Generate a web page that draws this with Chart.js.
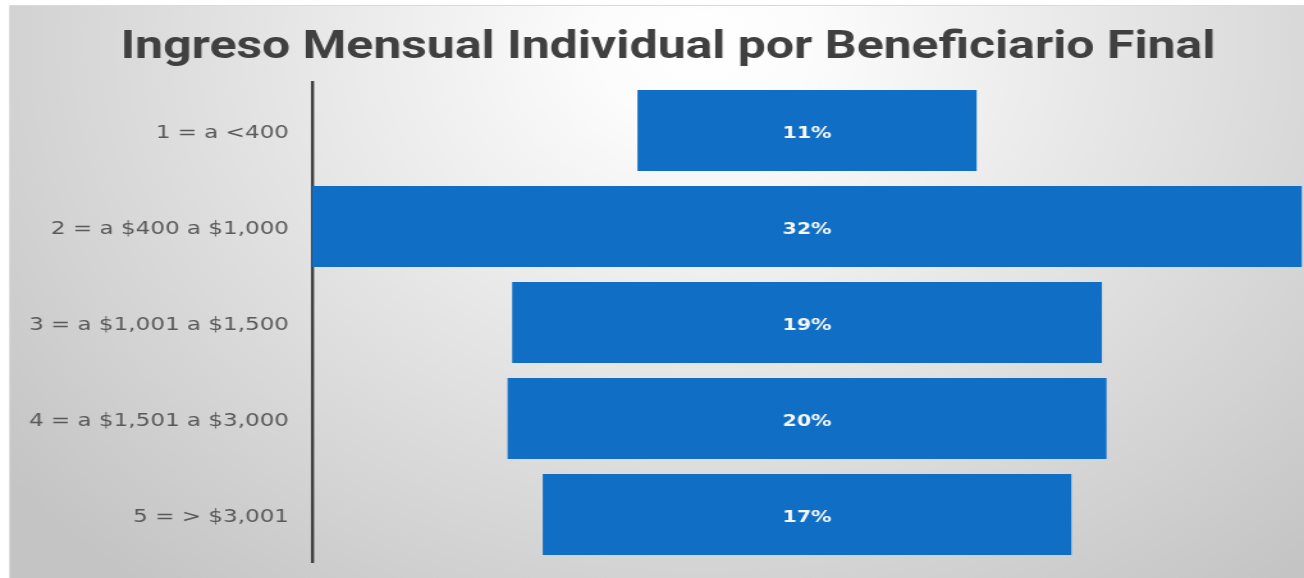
<!DOCTYPE html>
<html>
<head>
<meta charset="utf-8">
<script src="https://cdn.jsdelivr.net/npm/chart.js@4/dist/chart.umd.min.js"></script>
<style>
  html, body { margin: 0; padding: 0; background: #ffffff; overflow: hidden; }
  #wrap { position: relative; width: 1304px; height: 578px; }
  canvas { display: block; }
</style>
</head>
<body>
<div id="wrap"><canvas id="c" width="1019" height="578" style="width:1304px;height:578px"></canvas></div>
<script>
const chartTitle = 'Ingreso Mensual Individual por Beneficiario Final';
const categories = ['1 = a <400', '2 = a $400 a $1,000', '3 = a $1,001 a $1,500', '4 = a $1,501 a $3,000', '5 = > $3,001'];
const shares = [11.1, 32.4, 19.3, 19.6, 17.3];

const maxShare = Math.max(...shares);
const centre = maxShare / 2;
const funnelRanges = shares.map(v => [centre - v / 2, centre + v / 2]);

const bgPlugin = {
  id: 'bg',
  beforeDraw(chart) {
    const ctx = chart.ctx;
    const x0 = 8, y0 = 6, w = chart.width - x0, h = chart.height - y0;
    ctx.save();
    ctx.fillStyle = '#ffffff';
    ctx.fillRect(0, 0, chart.width, chart.height);
    const g = ctx.createRadialGradient(550, 45, 0, 550, 45, 700);
    g.addColorStop(0, '#ffffff');
    g.addColorStop(0.12, '#fcfcfc');
    g.addColorStop(1, '#c4c4c4');
    ctx.fillStyle = g;
    ctx.fillRect(x0, y0, w, h);
    ctx.strokeStyle = '#d9d9d9';
    ctx.lineWidth = 1;
    ctx.beginPath();
    ctx.moveTo(x0 - 0.5, chart.height);
    ctx.lineTo(x0 - 0.5, y0 - 0.5);
    ctx.lineTo(chart.width, y0 - 0.5);
    ctx.stroke();
    // title
    ctx.fillStyle = '#404040';
    ctx.font = 'bold 39px Roboto, "Liberation Sans", sans-serif';
    ctx.textAlign = 'center';
    ctx.textBaseline = 'alphabetic';
    ctx.fillText(chartTitle, 522, 58);
    ctx.restore();
  }
};

const labelPlugin = {
  id: 'barLabels',
  afterDatasetsDraw(chart) {
    const ctx = chart.ctx;
    const meta = chart.getDatasetMeta(0);
    ctx.save();
    ctx.fillStyle = '#f4f7fb';
    ctx.font = 'bold 16px "DejaVu Sans", Verdana, sans-serif';
    ctx.textAlign = 'center';
    ctx.textBaseline = 'middle';
    meta.data.forEach((bar, i) => {
      const cx = chart.scales.x.getPixelForValue(centre);
      ctx.fillText(Math.round(shares[i]) + '%', cx, bar.y + 3);
    });
    ctx.restore();
  }
};

new Chart(document.getElementById('c'), {
  type: 'bar',
  data: {
    labels: categories,
    datasets: [{
      data: funnelRanges,
      backgroundColor: '#106ec5',
      borderWidth: 0,
      borderSkipped: false,
      barPercentage: 0.845,
      categoryPercentage: 1.0
    }]
  },
  options: {
    indexAxis: 'y',
    responsive: false,
    animation: false,
    devicePixelRatio: 1,
    layout: { padding: { top: 82.5, bottom: 15.5, left: 0, right: 1.5 } },
    plugins: {
      legend: { display: false },
      tooltip: { enabled: false },
      title: { display: false }
    },
    scales: {
      x: { display: false, min: 0, max: maxShare },
      y: {
        grid: { display: false, drawTicks: false },
        border: { display: true, color: '#404040', width: 2.4 },
        ticks: {
          color: '#595959',
          font: { family: '"DejaVu Sans", Verdana, sans-serif', size: 18 },
          padding: 18,
          labelOffset: 2.5
        },
        afterFit(scale) {
          scale.width = 243.8;
          scale.paddingTop = 0;
          scale.paddingBottom = 0;
        }
      }
    }
  },
  plugins: [bgPlugin, labelPlugin]
});
</script>
</body>
</html>
